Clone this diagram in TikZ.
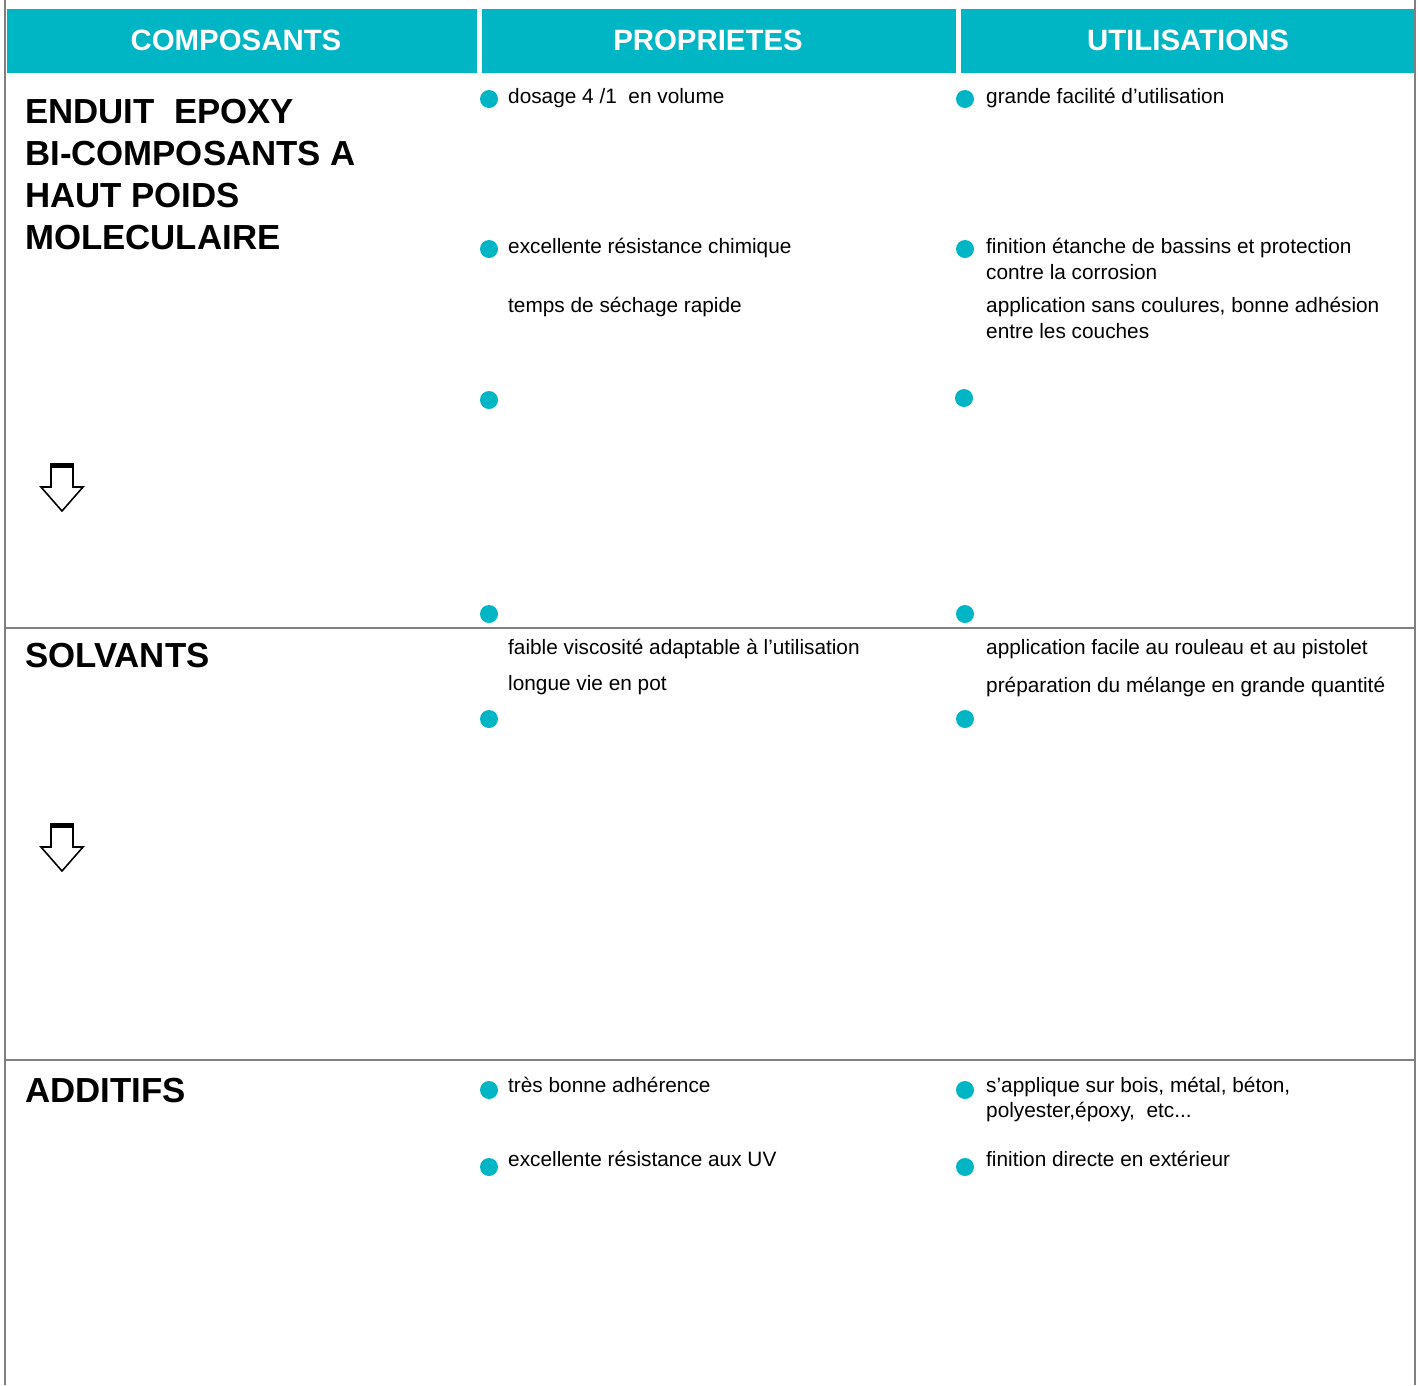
\documentclass[tikz,border=0pt]{standalone}
\usepackage{fontspec}
\setmainfont{Liberation Sans}
\definecolor{teal1}{RGB}{0,181,196}
\definecolor{rule}{RGB}{128,128,128}
\tikzset{
  hdr/.style={fill=teal1, draw=none},
  hdrtext/.style={anchor=base, text=white, font=\fontsize{29.4}{30}\selectfont\bfseries, inner sep=0pt},
  dot/.style={circle, fill=teal1, draw=none, minimum size=18pt, inner sep=0pt},
  body/.style={anchor=base west, font=\fontsize{20.8}{26}\selectfont, inner sep=0pt},
  title/.style={anchor=base west, font=\fontsize{34.8}{42}\selectfont\bfseries, inner sep=0pt},
  frame/.style={draw=rule, line width=1.5pt},
  arrowicon/.style={draw=black, line width=1.6pt, fill=white, line join=miter},
}
\begin{document}
\begin{tikzpicture}[x=1pt,y=-1pt]
\useasboundingbox (0,0) rectangle (1418,1385);
% frame lines
\draw[frame] (5,0) -- (5,1385);
\draw[frame] (1415,0) -- (1415,1385);
\draw[frame] (5,628) -- (1415,628);
\draw[frame] (5,1060) -- (1415,1060);
% headers
\fill[hdr] (7,9) rectangle (477,73);
\fill[hdr] (482,9) rectangle (956,73);
\fill[hdr] (961,9) rectangle (1414,73);
\node[hdrtext] (h1) at (236,50.5) {COMPOSANTS};
\node[hdrtext] (h2) at (708,50.5) {PROPRIETES};
\node[hdrtext] (h3) at (1188,50.5) {UTILISATIONS};
% titles
\node[title] (t1) at (25,123) {ENDUIT\ \ EPOXY};
\node[title] (t2) at (25,165) {BI-COMPOSANTS A};
\node[title] (t3) at (25,207) {HAUT POIDS};
\node[title] (t4) at (25,249) {MOLECULAIRE};
\node[title] (t5) at (25,667) {SOLVANTS};
\node[title] (t6) at (25,1102) {ADDITIFS};
% arrow icons
\foreach \n/\yy in {a1/463, a2/823}{
  \begin{scope}[shift={(0,\yy)}]
    \draw[arrowicon] (51,2) -- (73,2) -- (73,24) -- (83,24) -- (62,48) -- (41,24) -- (51,24) -- cycle;
    \fill[black] (50,0) rectangle (74,5);
    \draw[black, line width=2.6pt] (41,24) -- (51,24) -- (51,2);
    \coordinate (\n) at (62,24);
  \end{scope}
}
% dots column 2
\node[dot] (p1) at (489,99) {};
\node[dot] (p2) at (489,249) {};
\node[dot] (p3) at (489,400) {};
\node[dot] (p4) at (489,614) {};
\node[dot] (p5) at (489,719) {};
\node[dot] (p6) at (489,1090) {};
\node[dot] (p7) at (489,1167) {};
% dots column 3
\node[dot] (u1) at (965,99) {};
\node[dot] (u2) at (965,249) {};
\node[dot] (u3) at (964,398) {};
\node[dot] (u4) at (965,614) {};
\node[dot] (u5) at (965,719) {};
\node[dot] (u6) at (965,1090) {};
\node[dot] (u7) at (965,1167) {};
% column 2 texts
\node[body] (pt1) at (508,103) {dosage 4 /1\ \ en volume};
\node[body] (pt2) at (508,253) {excellente résistance chimique};
\node[body] (pt3) at (508,312) {temps de séchage rapide};
\node[body] (pt4) at (508,654) {faible viscosité adaptable à l’utilisation};
\node[body] (pt5) at (508,690) {longue vie en pot};
\node[body] (pt6) at (508,1092) {très bonne adhérence};
\node[body] (pt7) at (508,1166) {excellente résistance aux UV};
% column 3 texts
\node[body] (ut1) at (986,103) {grande facilité d’utilisation};
\node[body] (ut2) at (986,253) {finition étanche de bassins et protection};
\node[body] (ut3) at (986,279) {contre la corrosion};
\node[body] (ut4) at (986,312) {application sans coulures, bonne adhésion};
\node[body] (ut5) at (986,338) {entre les couches};
\node[body] (ut6) at (986,654) {application facile au rouleau et au pistolet};
\node[body] (ut7) at (986,692) {préparation du mélange en grande quantité};
\node[body] (ut8) at (986,1092) {s’applique sur bois, métal, béton,};
\node[body] (ut9) at (986,1117) {polyester,époxy,\ \ etc...};
\node[body] (ut10) at (986,1166) {finition directe en extérieur};
\end{tikzpicture}
\end{document}
